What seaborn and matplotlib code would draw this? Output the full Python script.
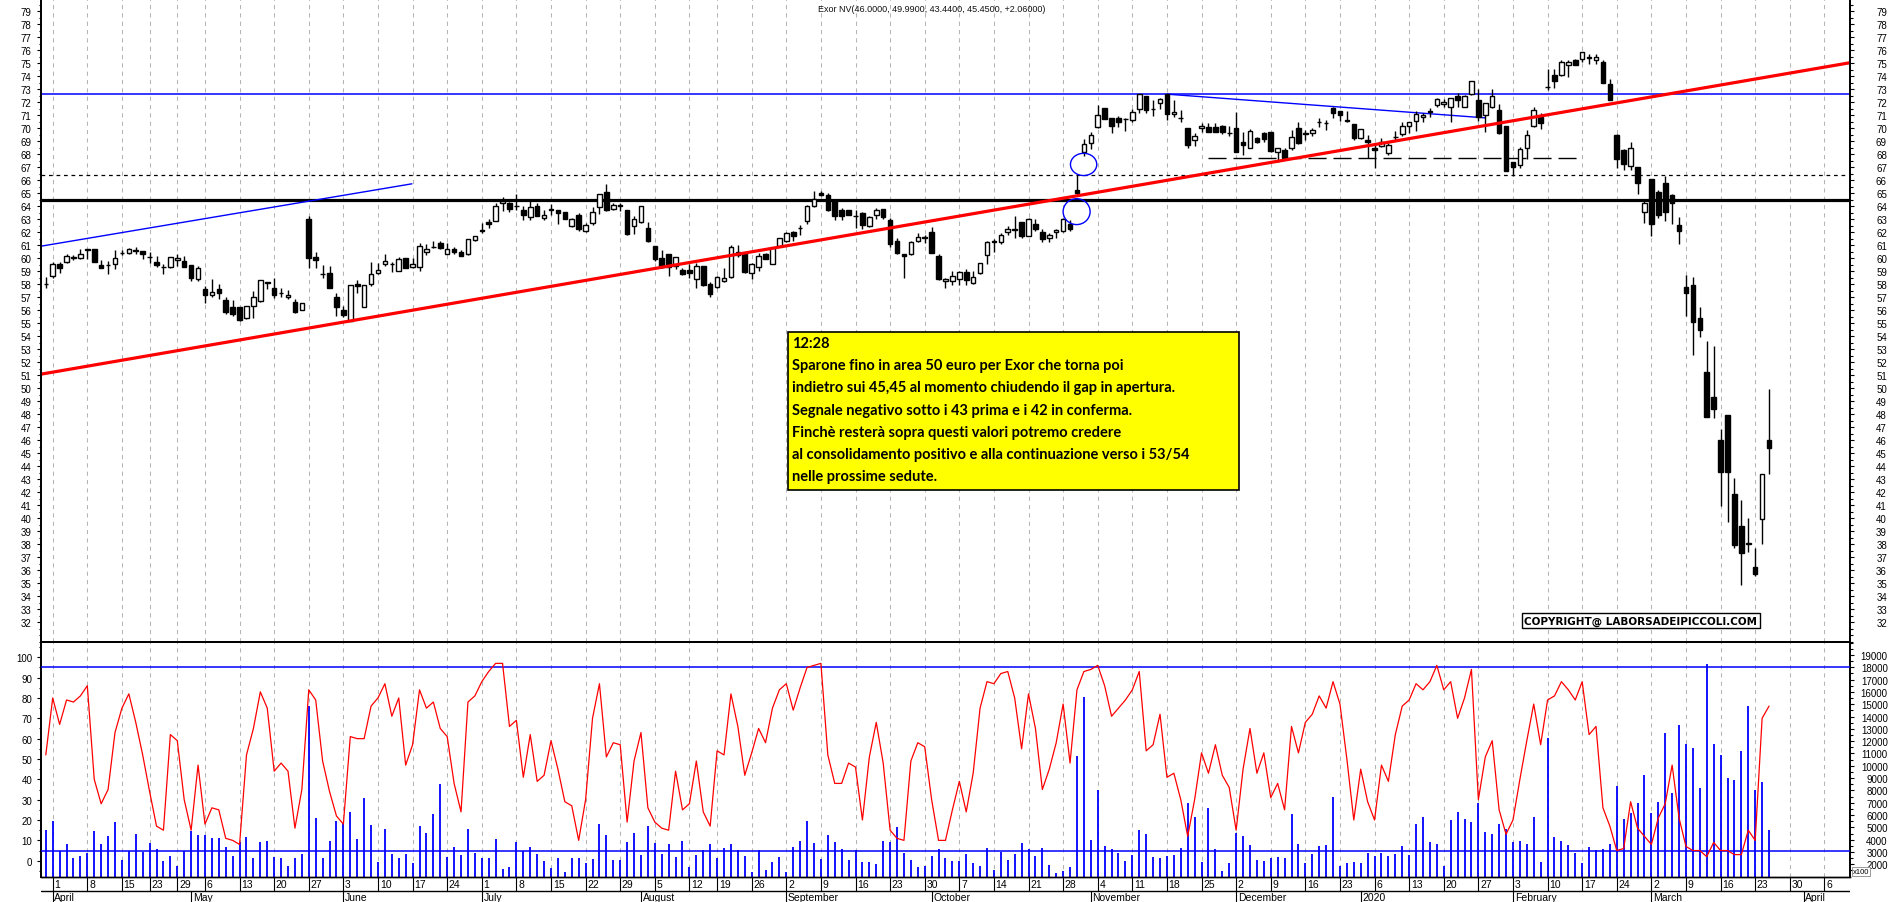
import numpy as np
import matplotlib
matplotlib.use('Agg')
import matplotlib.pyplot as plt
from matplotlib.patches import Ellipse, Rectangle
import pandas as pd
import seaborn as sns

sns.set_theme(style='white', rc={'axes.edgecolor': 'black', 'xtick.color': 'black',
                                 'ytick.color': 'black', 'text.color': 'black'})
plt.rcParams['font.family'] = ['Liberation Sans', 'DejaVu Sans']

# trading sessions (Borsa Italiana holidays removed), first one is 29 March 2019
holidays = ['2019-04-19', '2019-04-22', '2019-05-01', '2019-08-15', '2019-12-24',
            '2019-12-25', '2019-12-26', '2019-12-31', '2020-01-01', '2020-04-10', '2020-04-13']
sessions = pd.bdate_range('2019-03-29', '2020-04-17')
sessions = sessions[~sessions.isin(pd.to_datetime(holidays))]

opens = [58.0, 58.65, 59.56, 59.7, 60.05, 60.02, 60.68, 60.7, 59.49, 59.5,
         59.54, 60.38, 60.4, 60.6, 60.56, 60.1, 59.74, 59.33, 59.33, 59.84,
         59.8, 59.49, 58.42, 57.68, 57.19, 57.68, 56.81, 56.27, 56.22, 55.41,
         56.35, 56.73, 58.13, 57.73, 57.34, 57.0, 56.63, 56.04, 63.01, 60.1,
         58.8, 58.87, 56.99, 56.0, 55.2, 58.01, 56.27, 58.01, 58.87, 59.54,
         59.56, 59.03, 60.05, 59.33, 59.33, 60.48, 60.86, 61.17, 60.35, 60.73,
         60.51, 60.3, 61.4, 62.14, 62.76, 62.85, 64.23, 64.26, 64.0, 63.72,
         63.16, 64.05, 63.08, 63.75, 63.75, 63.54, 62.47, 63.36, 62.09, 62.7,
         63.93, 65.07, 63.77, 64.08, 63.72, 62.47, 62.78, 62.34, 60.94, 60.05,
         60.35, 59.41, 59.13, 59.08, 58.44, 59.41, 58.01, 57.8, 58.26, 58.57,
         60.25, 60.43, 58.85, 59.33, 60.3, 59.54, 60.91, 61.32, 62.04, 62.3,
         62.9, 64.0, 65.05, 64.89, 64.46, 63.7, 63.7, 63.24, 63.49, 62.52,
         63.31, 63.8, 62.93, 61.37, 60.3, 60.3, 61.32, 61.58, 62.01, 60.18,
         58.26, 58.26, 58.39, 58.95, 58.08, 58.85, 60.25, 61.27, 61.25, 62.04,
         62.29, 62.8, 61.71, 62.67, 62.04, 61.55, 62.04, 62.09, 62.67, 65.27,
         68.21, 68.85, 70.12, 71.58, 70.76, 70.81, 70.71, 70.63, 71.47, 72.5,
         71.47, 71.98, 72.6, 71.07, 70.76, 69.99, 69.1, 70.0, 70.12, 70.12,
         70.2, 69.61, 70.05, 68.97, 68.52, 69.28, 69.61, 69.69, 68.21, 68.34,
         68.46, 70.05, 69.66, 69.61, 70.45, 70.38, 71.58, 71.32, 70.59, 70.3,
         69.22, 69.13, 68.46, 68.6, 68.11, 69.33, 69.57, 70.21, 70.59, 70.88,
         71.26, 71.76, 71.85, 71.67, 72.49, 71.67, 72.64, 72.14, 71.03, 71.67,
         71.41, 70.21, 67.37, 67.14, 68.46, 70.15, 70.88, 73.14, 74.1, 74.1,
         74.83, 75.27, 75.36, 75.42, 75.24, 75.13, 73.37, 69.48, 68.31, 67.08,
         67.02, 63.54, 66.12, 65.12, 65.77, 64.89, 62.55, 57.81, 57.93, 55.44,
         51.29, 49.33, 46.02, 47.98, 41.87, 39.44, 38.0, 36.28, 39.97, 46.0]
highs = [58.6, 59.74, 59.74, 60.3, 60.25, 60.68, 60.7, 60.7, 59.85, 59.8,
         60.63, 60.63, 60.76, 60.84, 60.6, 60.48, 60.18, 59.59, 60.1, 60.35,
         60.18, 59.49, 59.44, 57.88, 58.39, 58.0, 57.04, 56.78, 56.22, 56.35,
         57.5, 58.34, 58.14, 58.47, 57.7, 57.57, 56.89, 56.58, 63.29, 60.51,
         59.48, 59.41, 57.37, 56.35, 57.96, 58.34, 57.93, 59.74, 59.66, 60.35,
         59.74, 60.1, 60.05, 60.05, 61.2, 61.12, 61.32, 61.37, 61.17, 60.86,
         60.61, 61.48, 61.71, 62.73, 63.06, 64.26, 64.71, 64.33, 64.94, 64.03,
         64.43, 64.26, 63.75, 64.18, 63.75, 63.54, 63.11, 63.49, 62.73, 63.93,
         64.94, 65.71, 64.26, 64.28, 63.72, 63.24, 64.03, 62.8, 60.94, 60.61,
         60.35, 60.1, 59.28, 59.54, 59.66, 59.41, 58.21, 58.65, 59.28, 61.02,
         61.02, 60.48, 59.66, 60.43, 60.43, 60.86, 61.58, 62.04, 62.14, 62.55,
         64.13, 65.2, 65.2, 65.02, 64.46, 63.88, 63.7, 63.75, 63.57, 63.24,
         63.88, 63.8, 63.11, 61.58, 60.3, 61.37, 61.96, 61.83, 62.4, 60.3,
         58.52, 59.03, 59.03, 59.16, 59.03, 59.64, 61.37, 61.45, 61.91, 62.47,
         63.24, 62.8, 63.11, 63.03, 62.22, 61.96, 62.22, 63.11, 62.98, 66.42,
         69.18, 69.74, 71.78, 71.58, 70.81, 70.96, 70.81, 71.47, 72.6, 72.5,
         72.16, 72.29, 72.67, 72.16, 71.4, 69.99, 69.61, 70.38, 70.38, 70.38,
         70.25, 70.2, 71.22, 69.74, 69.94, 69.36, 69.69, 69.69, 68.51, 68.51,
         69.87, 70.5, 69.87, 70.0, 70.76, 70.63, 71.65, 71.32, 71.32, 70.3,
         69.92, 69.51, 68.69, 69.22, 68.84, 69.8, 70.45, 70.5, 71.32, 71.18,
         71.56, 72.35, 72.26, 72.35, 72.73, 72.55, 73.66, 72.99, 71.97, 72.99,
         71.85, 70.21, 67.37, 68.54, 69.86, 71.62, 71.18, 74.54, 74.54, 75.27,
         75.27, 75.36, 75.83, 75.71, 75.71, 75.27, 73.81, 69.57, 68.4, 68.92,
         67.02, 64.6, 66.12, 65.24, 66.35, 64.95, 63.19, 58.75, 58.6, 56.26,
         53.63, 53.25, 46.9, 47.98, 43.1, 41.43, 40.03, 37.69, 43.39, 49.99]
lows = [57.75, 58.5, 58.9, 59.64, 59.87, 59.92, 59.97, 59.7, 59.23, 58.8,
        59.15, 60.25, 60.35, 60.3, 59.92, 59.67, 59.33, 58.77, 59.23, 59.38,
        59.33, 58.26, 58.26, 56.6, 56.99, 56.86, 55.71, 55.56, 55.2, 55.33,
        55.41, 56.68, 57.63, 56.94, 56.99, 56.89, 55.79, 56.02, 59.28, 59.28,
        58.52, 57.7, 55.58, 55.46, 55.15, 57.37, 56.22, 57.86, 58.82, 59.38,
        58.98, 59.03, 59.23, 59.28, 59.03, 60.25, 60.76, 60.68, 60.3, 60.3,
        60.15, 60.25, 61.32, 61.91, 62.3, 62.85, 63.67, 63.54, 63.75, 62.98,
        62.98, 63.24, 62.98, 63.36, 62.67, 63.0, 62.44, 62.14, 62.06, 62.6,
        63.42, 63.67, 63.72, 63.62, 61.83, 61.88, 62.73, 61.27, 59.79, 59.23,
        58.62, 59.16, 58.72, 58.52, 57.75, 57.88, 57.04, 57.75, 58.21, 58.52,
        60.1, 58.9, 58.39, 59.03, 59.92, 59.54, 60.86, 61.27, 61.37, 61.83,
        62.65, 63.93, 64.82, 63.67, 62.98, 62.98, 63.34, 62.34, 62.22, 62.39,
        63.03, 63.03, 60.86, 60.3, 58.52, 60.25, 61.25, 61.17, 60.43, 58.31,
        57.75, 57.96, 57.96, 57.93, 58.01, 58.77, 59.59, 60.51, 61.07, 61.76,
        61.58, 61.53, 61.68, 62.14, 61.27, 61.27, 61.55, 62.04, 62.14, 64.76,
        67.83, 68.41, 70.05, 70.68, 69.61, 70.12, 69.79, 70.45, 71.14, 71.14,
        70.96, 71.47, 70.63, 70.88, 70.45, 68.52, 68.67, 69.74, 69.74, 69.69,
        69.53, 69.43, 68.16, 67.95, 68.46, 68.85, 68.97, 68.16, 67.4, 67.7,
        68.34, 68.77, 69.1, 69.43, 70.12, 69.87, 70.76, 70.59, 70.45, 69.13,
        69.19, 67.75, 66.94, 68.54, 67.96, 69.13, 69.42, 69.63, 69.8, 70.5,
        70.88, 71.62, 71.62, 70.5, 71.62, 71.62, 72.58, 70.59, 69.71, 71.56,
        69.57, 66.7, 66.35, 66.94, 67.67, 70.09, 69.98, 72.93, 73.08, 74.04,
        73.96, 74.83, 75.13, 74.98, 74.98, 73.46, 72.14, 66.94, 66.79, 66.79,
        64.95, 62.69, 61.73, 63.13, 62.84, 62.61, 61.14, 55.53, 52.55, 53.92,
        47.78, 47.69, 40.96, 39.73, 37.69, 34.91, 37.4, 35.55, 38.04, 43.44]
closes = [58.05, 59.6, 59.28, 60.15, 60.08, 60.3, 60.63, 59.72, 59.23, 59.45,
          60.02, 60.4, 60.73, 60.65, 60.35, 60.12, 59.49, 59.35, 60.1, 60.02,
          59.36, 58.47, 59.23, 57.19, 57.42, 57.35, 55.84, 55.71, 55.25, 56.35,
          56.99, 58.34, 58.14, 57.17, 57.35, 57.19, 55.89, 56.58, 60.05, 59.87,
          58.82, 57.75, 56.25, 55.64, 57.96, 57.9, 57.93, 58.8, 59.07, 59.82,
          59.58, 59.97, 59.28, 59.59, 60.94, 60.74, 60.89, 60.76, 60.71, 60.45,
          60.18, 61.48, 61.71, 62.16, 62.65, 64.0, 64.43, 63.82, 64.02, 63.31,
          63.95, 63.29, 63.31, 63.77, 63.47, 63.03, 63.03, 62.22, 62.57, 63.54,
          64.94, 63.75, 64.08, 64.0, 61.88, 63.06, 64.03, 61.3, 59.92, 59.33,
          59.33, 60.1, 58.77, 58.9, 59.41, 57.93, 57.29, 58.57, 58.47, 60.86,
          60.51, 58.95, 59.54, 60.18, 59.97, 60.81, 61.58, 61.96, 61.71, 62.32,
          64.0, 64.59, 64.84, 63.75, 63.29, 63.24, 63.36, 63.26, 62.6, 63.16,
          63.7, 63.19, 61.12, 60.43, 60.2, 61.27, 61.63, 61.6, 60.43, 58.39,
          58.44, 58.65, 58.95, 58.31, 58.6, 59.64, 61.27, 61.29, 61.78, 62.29,
          62.16, 61.68, 63.06, 62.29, 61.45, 61.78, 62.19, 63.0, 62.22, 65.05,
          68.77, 69.48, 71.01, 70.71, 70.2, 70.5, 70.73, 71.27, 72.6, 71.4,
          71.49, 72.24, 71.09, 71.27, 70.78, 68.72, 69.43, 70.2, 69.74, 69.74,
          69.74, 69.63, 68.21, 68.72, 69.79, 68.97, 69.15, 68.26, 68.46, 67.75,
          69.36, 68.85, 69.54, 69.87, 70.47, 70.4, 71.14, 71.03, 70.61, 69.22,
          69.92, 68.92, 68.34, 68.98, 68.69, 69.35, 70.21, 70.45, 71.09, 71.03,
          71.28, 72.26, 72.05, 72.35, 72.14, 72.49, 73.66, 70.88, 71.97, 72.49,
          69.63, 66.7, 67.02, 68.4, 69.51, 71.41, 70.39, 73.16, 73.6, 75.13,
          75.07, 74.83, 75.83, 75.44, 75.48, 73.46, 72.2, 67.67, 67.29, 68.46,
          65.77, 64.22, 62.61, 63.37, 63.57, 64.24, 62.08, 57.34, 55.09, 54.48,
          47.78, 48.45, 43.54, 43.6, 37.92, 37.34, 38.14, 35.73, 43.39, 45.45]
oscillator = [52, 80, 67, 79, 78, 81, 86, 40, 28, 35,
              63, 75, 82, 68, 52, 34, 17, 15, 62, 59,
              30, 15, 47, 18, 26, 25, 11, 10, 8, 52,
              65, 83, 75, 44, 48, 44, 16, 35, 84, 79,
              49, 34, 22, 18, 61, 60, 60, 76, 80, 87,
              71, 80, 47, 57, 84, 75, 78, 65, 61, 38,
              24, 78, 81, 88, 93, 97, 97, 66, 69, 41,
              62, 39, 42, 59, 45, 29, 27, 10, 30, 70,
              87, 51, 58, 57, 19, 49, 63, 26, 19, 16,
              15, 44, 25, 28, 49, 24, 17, 54, 52, 82,
              66, 42, 53, 65, 58, 75, 84, 87, 74, 85,
              95, 96, 97, 52, 38, 38, 48, 46, 20, 51,
              68, 48, 15, 11, 10, 49, 58, 56, 30, 10,
              10, 25, 39, 24, 43, 75, 88, 87, 92, 93,
              80, 55, 82, 65, 35, 45, 58, 77, 48, 84,
              93, 94, 96, 86, 71, 75, 79, 84, 93, 54,
              57, 72, 41, 43, 30, 12, 30, 53, 43, 57,
              42, 36, 15, 45, 65, 43, 53, 31, 38, 25,
              66, 53, 68, 72, 81, 75, 88, 77, 50, 20,
              45, 29, 20, 47, 39, 62, 76, 79, 87, 84,
              88, 96, 84, 88, 70, 80, 94, 30, 51, 59,
              25, 13, 20, 40, 59, 77, 57, 79, 81, 88,
              84, 79, 88, 62, 66, 26, 17, 5, 6, 29,
              16, 12, 8, 21, 28, 47, 21, 7, 5, 5,
              2, 9, 5, 5, 3, 3, 15, 10, 70, 76]
volume = [4780, 5540, 3100, 3650, 2510, 2700, 2920, 4730, 3650, 4300,
          5460, 2370, 3100, 4460, 3020, 3730, 3240, 2290, 2700, 1890,
          3100, 4730, 4380, 4380, 4130, 4130, 3380, 2700, 3780, 4190,
          2540, 3780, 3890, 2590, 2510, 1860, 2510, 2810, 14830, 5760,
          2510, 3890, 5520, 5350, 6250, 4050, 7380, 5190, 2210, 4870,
          2830, 2510, 2830, 2100, 5110, 4540, 6080, 8550, 2590, 3400,
          2750, 4870, 2920, 2510, 2510, 4050, 1620, 1780, 3810, 3100,
          3400, 2830, 2270, 1700, 2510, 1370, 2510, 2510, 2100, 2430,
          5270, 4380, 2350, 2350, 3810, 4540, 2750, 5110, 3730, 2830,
          3650, 2590, 3890, 1780, 2750, 3130, 3650, 2510, 3320, 3650,
          3130, 2670, 1370, 3130, 1530, 2180, 2590, 1370, 3400, 3890,
          5520, 3730, 2430, 4380, 3810, 3240, 2350, 3160, 2180, 2180,
          2020, 3890, 3840, 5030, 2920, 2350, 1780, 1860, 2670, 3240,
          2510, 2270, 2270, 2830, 2100, 1860, 3320, 1530, 3000, 2350,
          2830, 3730, 3240, 2670, 3320, 1940, 1300, 1430, 1780, 10820,
          15590, 3970, 8030, 3480, 3240, 2920, 2270, 2750, 4780, 4460,
          2590, 2510, 2670, 2750, 3320, 6980, 5810, 2180, 6570, 3240,
          1480, 2100, 4540, 4300, 3570, 2370, 2290, 2510, 2590, 2510,
          6080, 3650, 2100, 2830, 3480, 3570, 7470, 1860, 2100, 2180,
          2100, 2920, 2670, 2920, 2670, 2830, 3480, 2750, 5270, 5840,
          3810, 3650, 1860, 5600, 6250, 5680, 5430, 6980, 4620, 4460,
          5270, 4870, 3780, 3890, 3650, 5840, 2180, 12260, 4220, 3890,
          3570, 2920, 2100, 3400, 3160, 3240, 3650, 8360, 5680, 6170,
          6980, 9250, 6170, 7030, 12660, 7790, 13310, 11770, 11450, 8200,
          18270, 11770, 10880, 9010, 8850, 11200, 14860, 8030, 8680, 4780]

note_lines = ['12:28',
              'Sparone fino in area 50 euro per Exor che torna poi',
              'indietro sui 45,45 al momento chiudendo il gap in apertura.',
              'Segnale negativo sotto i 43 prima e i 42 in conferma.',
              'Finchè resterà sopra questi valori potremo credere',
              'al consolidamento positivo e alla continuazione verso i 53/54',
              'nelle prossime sedute.']
title = 'Exor NV(46.0000, 49.9900, 43.4400, 45.4500, +2.06000)'

# drawn levels and trendlines (session index, price)
resistance, support, gap_level, neckline = 72.6, 64.5, 66.38, 67.75
red_trend = ([-1.62, 259.7], [51.1, 75.04])
blue_channel = ([-1.62, 51.9], [60.94, 65.73])
blue_top = ([161.1, 207.0], [72.62, 70.8])
neck_span = (166.9, 221.1)
gap_circles = [(148.96, 67.22, 3.8, 1.71), (147.95, 63.59, 3.9, 1.99)]

O, H, L, C = map(np.array, (opens, highs, lows, closes))
x = np.arange(len(C)) - 1
cal = pd.DataFrame({'date': sessions, 'pos': np.arange(len(sessions)) - 1})
weeks = cal.groupby(cal.date.dt.to_period('W')).first()
weeks = weeks[(weeks.date >= '2019-04-01') & (weeks.date <= '2020-04-06') & (weeks.date != '2019-12-30')]
months = cal.groupby(cal.date.dt.to_period('M')).first()
months = months[months.date >= '2019-04-01']

W_PX, H_PX = 1890, 903
fig = plt.figure(figsize=(18.9, 9.03), dpi=100)
lft, rgt = 41.5 / W_PX, 1850 / W_PX
ax_p = fig.add_axes([lft, 1 - 643 / H_PX, rgt - lft, 643 / H_PX])
ax_o = fig.add_axes([lft, 1 - 878 / H_PX, rgt - lft, 235 / H_PX], sharex=ax_p)
ax_d = fig.add_axes([lft, 0, rgt - lft, 25 / H_PX], sharex=ax_p)
ax_pr = ax_p.twinx()
ax_v = ax_o.twinx()
ax_o.set_zorder(ax_v.get_zorder() + 1)
ax_o.patch.set_visible(False)
ax_p.set_xlim(-1.62, 259.7)

grid_kw = dict(color='#b4b4b4', lw=0.75, ls=(0, (4, 4)), zorder=0)
for p in weeks.pos:
    ax_p.axvline(p, **grid_kw)
    ax_v.axvline(p, **grid_kw)

# price panel
ax_p.axhline(resistance, color='#0000ff', lw=1.1, zorder=1)
ax_p.axhline(support, color='black', lw=2.3, zorder=1)
ax_p.axhline(gap_level, color='black', lw=0.9, ls=(0, (3, 3)), zorder=1)
ax_p.plot(*red_trend, color='#ff0000', lw=2.3, zorder=4)
ax_p.plot(*blue_channel, color='#0000ff', lw=1.0, zorder=1)
ax_p.plot(*blue_top, color='#0000ff', lw=1.0, zorder=1)
ax_p.hlines(neckline, *neck_span, color='black', lw=1.0, ls=(0, (13, 5)), zorder=1)
for cx, cy, w, h in gap_circles:
    ax_p.add_patch(Ellipse((cx, cy), w, h, fill=False, edgecolor='#0000ff', lw=1.0, zorder=5))

up = C >= O
body_lo = np.minimum(O, C)
body_h = np.maximum(np.abs(C - O), 0.03)
ax_p.vlines(x, L, H, color='black', lw=1.0, zorder=2)
ax_p.bar(x[up], body_h[up], bottom=body_lo[up], width=0.66, color='white',
         edgecolor='black', lw=1.0, zorder=3)
ax_p.bar(x[~up], body_h[~up], bottom=body_lo[~up], width=0.66, color='black',
         edgecolor='black', lw=1.0, zorder=3)

price_ticks = list(range(32, 80))
for a in (ax_p, ax_pr):
    a.set_ylim(30.74, 79.94)
    a.set_yticks(np.arange(30.5, 80, 0.5), minor=True)
ax_p.set_yticks(price_ticks, [str(t) for t in price_ticks])
ax_pr.set_yticks(price_ticks, [str(t) for t in price_ticks], ha='right')
ax_p.tick_params(axis='y', which='both', left=True, right=False, labelsize=7, pad=4.2, width=0.8)
ax_pr.tick_params(axis='y', which='both', right=True, labelsize=7, pad=23.6, width=0.8)
for a in (ax_p, ax_pr):
    a.tick_params(axis='y', which='major', length=3)
    a.tick_params(axis='y', which='minor', length=1.8)
    a.spines['top'].set_visible(False)
    a.spines['bottom'].set_visible(False)
ax_p.tick_params(axis='x', bottom=False, labelbottom=False)

# oscillator and volume panel
vol_ticks = list(range(2000, 19001, 1000))
ax_v.vlines(x, 968, volume, color='#0000ff', lw=1.3)
ax_v.set_ylim(968, 20056)
ax_v.set_yticks(vol_ticks, [str(t) for t in vol_ticks], ha='right')
ax_v.set_yticks(np.arange(1500, 20001, 500), minor=True)
ax_v.tick_params(axis='y', which='both', right=True, labelsize=7, pad=24.2, width=0.8)
ax_v.tick_params(axis='y', which='minor', length=1.8)
ax_v.tick_params(axis='y', which='major', length=3)

sns.lineplot(x=x, y=oscillator, ax=ax_o, color='#ff0000', lw=0.9, zorder=4)
ax_o.axhline(95, color='#0000ff', lw=1.1, zorder=3)
ax_o.axhline(5, color='#0000ff', lw=1.1, zorder=3)
ax_o.set_ylim(-8, 107.5)
ax_o.set_yticks(range(0, 101, 10))
ax_o.set_yticks(range(-5, 106, 5), minor=True)
ax_o.tick_params(axis='y', which='both', left=True, labelsize=7, pad=3.5, width=0.8)
ax_o.tick_params(axis='y', which='minor', length=1.8)
ax_o.tick_params(axis='y', which='major', length=3)
ax_o.tick_params(axis='x', bottom=False, labelbottom=False)
ax_o.set_xlabel('')
ax_o.set_ylabel('')
ax_o.spines['top'].set_linewidth(1.4)
for a in (ax_o, ax_v):
    a.spines['bottom'].set_linewidth(1.0)

# date rows
ax_d.set_ylim(0, 1)
ax_d.axis('off')
ax_d.axhline(0.46, color='black', lw=1.0)
for p, d in zip(weeks.pos, weeks.date):
    ax_d.vlines(p, 0.46, 1, color='black', lw=0.8)
    ax_d.text(p + 0.25, 0.72, str(d.day), fontsize=7.5, va='center', ha='left')
for p, d in zip(months.pos, months.date):
    ax_d.vlines(p, 0, 0.46, color='black', lw=0.8)
    name = '2020' if d.month == 1 else d.strftime('%B')
    ax_d.text(p + 0.25, 0.2, name, fontsize=7.5, va='center', ha='left')

# annotations
fig.text(818 / W_PX, 1 - 9 / H_PX, title, fontsize=6.5, va='center', ha='left', color='#111111')
box_l, box_t, box_r, box_b = 788, 333, 1239, 491
fig.patches.append(Rectangle((box_l / W_PX, 1 - box_b / H_PX), (box_r - box_l) / W_PX,
                             (box_b - box_t) / H_PX, transform=fig.transFigure,
                             facecolor='#ffff00', edgecolor='black', lw=1.2, zorder=5))
for k, line in enumerate(note_lines):
    fig.text(792 / W_PX, 1 - (344 + 22.2 * k) / H_PX, line, fontsize=10.5, fontweight='bold',
             va='center', ha='left', family=['Lato', 'DejaVu Sans'], zorder=6)
fig.text(1641 / W_PX, 1 - 621.5 / H_PX, 'COPYRIGHT@ LABORSADEIPICCOLI.COM', ha='center', va='center',
         fontsize=7.5, fontweight='bold', family=['DejaVu Sans'],
         bbox=dict(facecolor='white', edgecolor='black', boxstyle='square,pad=0.2', lw=1))
fig.text(1861 / W_PX, 1 - 872.5 / H_PX, 'x100', ha='center', va='center', fontsize=5.5,
         bbox=dict(facecolor='white', edgecolor='#888888', boxstyle='square,pad=0.15', lw=0.6))

fig.savefig('out.png', dpi=100)
